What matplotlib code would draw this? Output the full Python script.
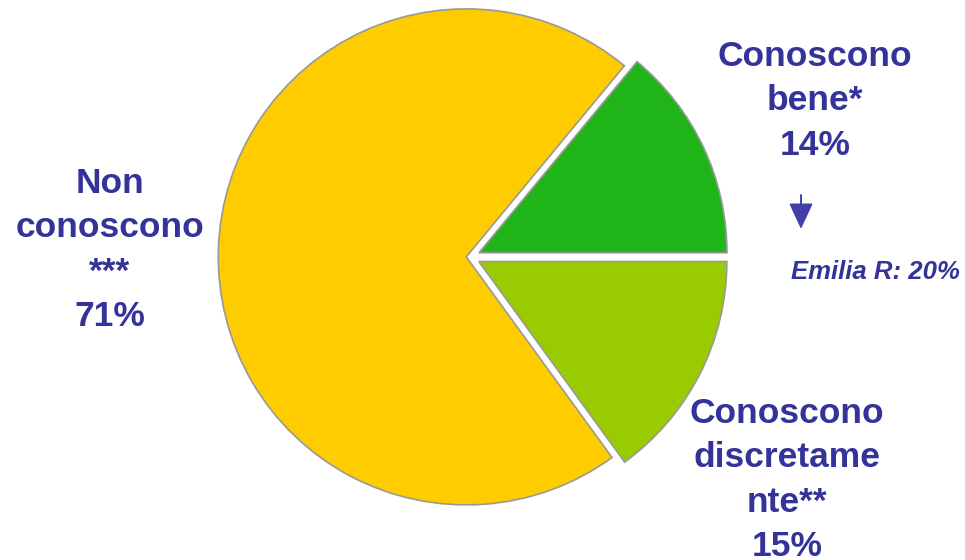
import matplotlib
matplotlib.use("Agg")
import matplotlib.pyplot as plt

# data
categories = ["Conoscono bene*", "Non conoscono ***", "Conoscono discretamente**"]
shares = [14, 71, 15]
colors = ["#1fb519", "#ffcc00", "#99cc00"]
explode = [0.04, 0.015, 0.04]

labels = ["Conoscono\nbene*\n14%", "Non\nconoscono\n***\n71%", "Conoscono\ndiscretame\nnte**\n15%"]
note = "Emilia R: 20%"

W, H = 965, 560
R = 248
txt_color = "#333399"

fig = plt.figure(figsize=(W / 100, H / 100), dpi=100)
ax = fig.add_axes([0, 0, 1, 1])

# pie centred near (470, 257) px from top; explode is in data units, so scale by radius
ax.pie(shares, colors=colors, explode=[e * R for e in explode], startangle=0,
       counterclock=True, center=(470, H - 257), radius=R, frame=True,
       wedgeprops=dict(edgecolor="#999999", linewidth=1.2))
ax.set_xlim(0, W)
ax.set_ylim(0, H)
ax.set_aspect("equal")
ax.axis("off")

font = dict(family=["Liberation Sans", "DejaVu Sans"], fontweight="bold", color=txt_color)

# label anchors (x centre, y centre, from top)
label_pos = [(815, 101), (110, 250), (787, 480)]
for lab, (x, y) in zip(labels, label_pos):
    ax.text(x, H - y, lab, ha="center", va="center", fontsize=25.5,
            linespacing=1.44, **font)

# arrow towards the regional figure
ax.annotate("", xy=(801, H - 229), xytext=(801, H - 195),
            arrowprops=dict(arrowstyle="-|>,head_length=0.8,head_width=0.37",
                            color="#4040a8", lw=1.4, mutation_scale=20,
                            shrinkA=0, shrinkB=0))
ax.text(875, H - 272, note, ha="center", va="center", fontsize=18.5,
        fontstyle="italic", **font)

fig.savefig("out.png", dpi=100)
